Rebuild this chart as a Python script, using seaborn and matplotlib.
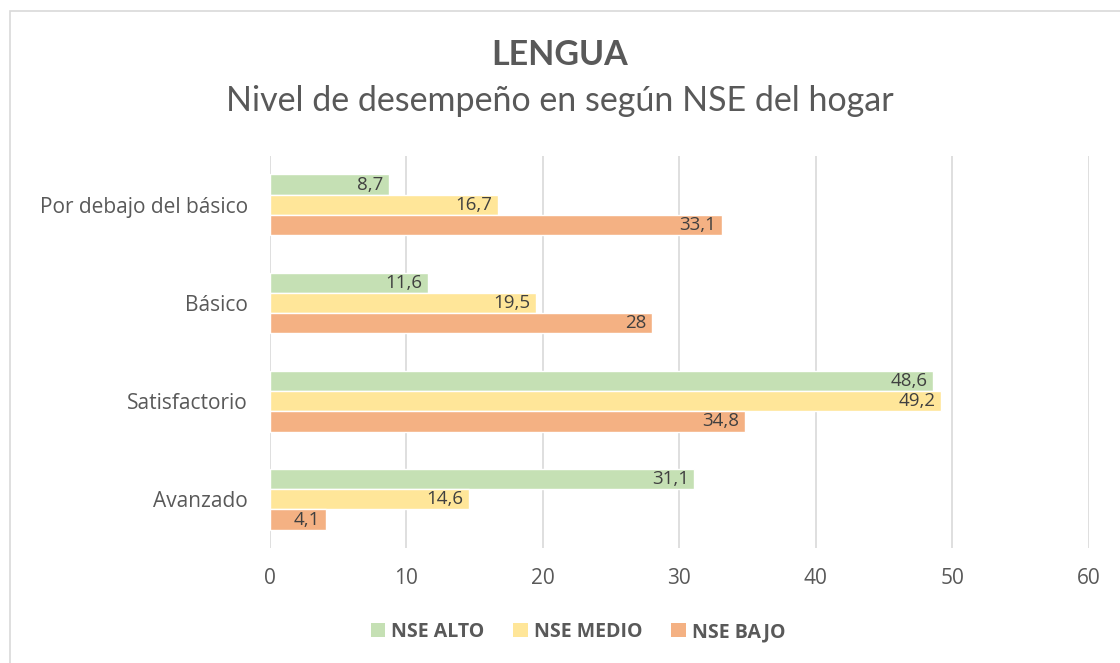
import pandas as pd
import seaborn as sns
import matplotlib.pyplot as plt
from matplotlib.patches import Rectangle, Patch

sns.set_style("white")
plt.rcParams['font.family'] = ['Open Sans', 'DejaVu Sans']

niveles = ["Por debajo del básico", "Básico", "Satisfactorio", "Avanzado"]
series = ["NSE ALTO", "NSE MEDIO", "NSE BAJO"]
alto = [8.7, 11.6, 48.6, 31.1]
medio = [16.7, 19.5, 49.2, 14.6]
bajo = [33.1, 28.0, 34.8, 4.1]
colores = ["#C5E0B4", "#FFE699", "#F4B183"]

rows = []
for s, vals in zip(series, [alto, medio, bajo]):
    for n, v in zip(niveles, vals):
        rows.append({"nivel": n, "serie": s, "valor": v})
df = pd.DataFrame(rows)

fig = plt.figure(figsize=(11.2, 6.63), dpi=100)
ax = fig.add_axes([0.241, 0.173, 0.731, 0.592])

sns.barplot(data=df, y="nivel", x="valor", hue="serie", order=niveles,
            hue_order=series, palette=colores, saturation=1, width=0.62,
            edgecolor="white", linewidth=1, errorbar=None, legend=False, ax=ax)

def fmt(v):
    s = f"{v:.1f}"
    if s.endswith(".0"):
        s = s[:-2]
    return s.replace(".", ",")

for cont, vals in zip(ax.containers, [alto, medio, bajo]):
    labs = ax.bar_label(cont, labels=[fmt(v) for v in vals], padding=-4,
                        fontsize=13.5, color="#404040")
    for t in labs:
        t.set_ha("right")

ax.set_xlim(0, 60)
ax.set_ylim(3.5, -0.5)
ax.set_xticks(range(0, 61, 10))
ax.grid(axis="x", color="#D9D9D9", linewidth=1.2)
ax.set_axisbelow(True)
for sp in ax.spines.values():
    sp.set_visible(False)
ax.tick_params(axis="x", length=0, pad=14, labelsize=15, labelcolor="#595959")
ax.tick_params(axis="y", length=0, pad=16, labelsize=15, labelcolor="#595959")
ax.set_xlabel("")
ax.set_ylabel("")

fig.text(0.5, 1 - 55 / 663, "LENGUA", ha="center", va="center",
         fontsize=24.5, fontweight="bold", color="#595959", family=["Lato", "DejaVu Sans"])
fig.text(0.5, 1 - 101 / 663, "Nivel de desempeño en según NSE del hogar",
         ha="center", va="center", fontsize=24.5, color="#595959",
         family=["Lato", "DejaVu Sans"])

handles = [Patch(facecolor=c, edgecolor="none") for c in colores]
leg = fig.legend(handles, series, loc="center", bbox_to_anchor=(0.516, 1 - 632 / 663),
                 ncol=3, frameon=False, handlelength=0.75, handleheight=0.75,
                 columnspacing=1.5, handletextpad=0.3,
                 prop={"size": 14, "weight": "bold"})
for t in leg.get_texts():
    t.set_color("#595959")

fig.patches.append(Rectangle((10 / 1120, -0.01), 1.02, 1 - 11 / 663 + 0.01,
                             transform=fig.transFigure, fill=False,
                             edgecolor="#D9D9D9", linewidth=1.2))

plt.savefig("out.png", dpi=100)
plt.close()
